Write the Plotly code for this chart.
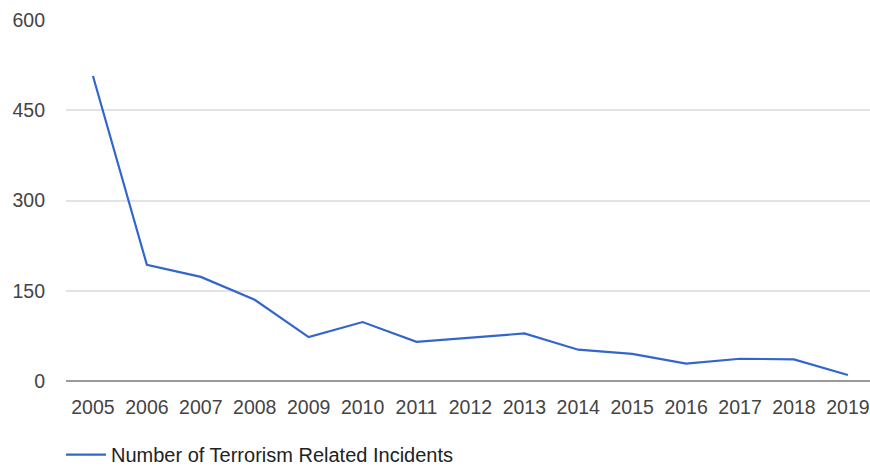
import plotly.graph_objects as go

years = ["2005", "2006", "2007", "2008", "2009", "2010", "2011", "2012",
         "2013", "2014", "2015", "2016", "2017", "2018", "2019"]
incidents = [507, 193, 173, 135, 73, 98, 65, 72, 79, 52, 45, 29, 37, 36, 10]
y_ticks = [0, 150, 300, 450, 600]
series_name = "Number of Terrorism Related Incidents"

fig = go.Figure()
fig.add_trace(go.Scatter(
    x=years, y=incidents, mode="lines", name=series_name,
    line=dict(color="#3366cc", width=2.2),
))

font_family = "Liberation Sans, Arial, sans-serif"
fig.update_layout(
    width=870, height=466,
    margin=dict(l=66, r=0, t=20, b=85, autoexpand=False),
    paper_bgcolor="white", plot_bgcolor="white",
    font=dict(family=font_family, size=19.5, color="#444444"),
    showlegend=True,
    legend=dict(orientation="h", x=-0.0062, xanchor="left", y=-0.150, yanchor="top",
                itemwidth=40,
                font=dict(size=20, color="#222222"), bgcolor="rgba(0,0,0,0)"),
    xaxis=dict(type="category", range=[-0.5, 14.41], showgrid=False,
               showline=False, zeroline=False, ticks="",
               ticklabelstandoff=12, tickfont=dict(size=19.5, color="#444444")),
    yaxis=dict(range=[0, 600], tickvals=y_ticks, showgrid=True,
               gridcolor="#e3e3e3", gridwidth=1.5, zeroline=True,
               zerolinecolor="#9a9a9a", zerolinewidth=1.6, showline=False,
               ticks="", ticklabelstandoff=20,
               tickfont=dict(size=19.5, color="#444444")),
)

fig.write_html("out.html",
               config={"displayModeBar": False},
               post_script="document.body.style.margin='0';document.body.style.overflow='hidden';")
